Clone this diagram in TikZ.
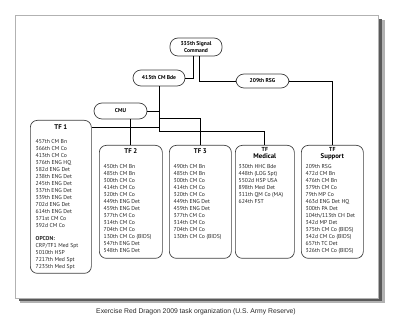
\documentclass[tikz,border=0pt]{standalone}
\usepackage{fontspec}
\setmainfont{PT Sans}
\newfontfamily\capfont{Liberation Sans}
\usetikzlibrary{positioning}

\tikzset{
  unit/.style={draw=black!75, line width=0.7pt, rounded corners=8pt, fill=white,
    font=\bfseries\fontsize{5.6}{6.2}\selectfont, align=center, inner sep=1pt},
  tfbox/.style={draw=black!75, line width=0.7pt, rounded corners=7pt, fill=white,
    anchor=north west, inner sep=0pt},
  tftitle/.style={font=\bfseries\fontsize{6.8}{7.6}\selectfont, align=center,
    inner sep=0pt, anchor=north},
  tflist/.style={font=\fontsize{5.7}{7}\selectfont, align=left, inner sep=0pt,
    anchor=north west, text=black!85},
  link/.style={line width=0.9pt, black}
}

\begin{document}
\begin{tikzpicture}[x=1pt, y=-1pt]
	\useasboundingbox (0,0) rectangle (400,320);
	\fill[black!30] (20,20) rectangle (385,303);
	\fill[black!65] (19,19) rectangle (382,301);
	\filldraw[fill=white, draw=black!30] (15,15) rectangle (378,298);
	% command chain
	\node[unit, minimum width=52, minimum height=18] (sig) at (196,47) {335th Signal\\Command};
	\node[unit, minimum width=52, minimum height=16] (bde) at (159,78) {415th CM Bde};
	\node[unit, minimum width=53, minimum height=14] (rsg) at (262.5,81) {209th RSG};
	\node[unit, minimum width=53, minimum height=16] (cmu) at (120.5,111) {CMU};
	% task forces
	\node[tfbox, minimum width=61, minimum height=153] (tf1) at (30,120) {};
	\foreach \name/\x/\w in {tf2/99/63, tf3/169/62, tfm/235/59, tfs/301/62} {
		\node[tfbox, minimum width=\w, minimum height=113] (\name) at (\x,145) {};
	}
	\node[tftitle] (tf1t) at ([yshift=-4.5pt]tf1.north) {TF 1};
	\node[tftitle] (tf2t) at ([yshift=-3.5pt]tf2.north) {TF 2};
	\node[tftitle] (tf3t) at ([yshift=-3.5pt]tf3.north) {TF 3};
	\node[tftitle] (tfmt) at ([yshift=-2pt]tfm.north) {\fontsize{5.8}{7}\selectfont TF\\\fontsize{6.8}{7}\selectfont Medical};
	\node[tftitle] (tfst) at ([yshift=-2pt]tfs.north) {\fontsize{5.8}{7}\selectfont TF\\\fontsize{6.8}{7}\selectfont Support};
	\node[tflist] (tf1l) at ([xshift=5.5pt, yshift=-19.5pt]tf1.north west) {457th CM Bn\\366th CM Co\\413th CM Co\\376th ENG HQ\\582d ENG Det\\238th ENG Det\\245th ENG Det\\337th ENG Det\\339th ENG Det\\702d ENG Det\\614th ENG Det\\371st CM Co\\392d CM Co\\[6pt]
		\textbf{OPCON:}\\CRP/TF1 Med Spt\\5010th HSP\\7217th Med Spt\\7235th Med Spt};
	\node[tflist] (tf2l) at ([xshift=4.5pt, yshift=-19.5pt]tf2.north west) {450th CM Bn\\485th CM Bn\\300th CM Co\\414th CM Co\\320th CM Co\\449th ENG Det\\459th ENG Det\\377th CM Co\\314th CM Co\\704th CM Co\\130th CM Co (BIDS)\\547th ENG Det\\548th ENG Det};
	\node[tflist] (tf3l) at ([xshift=4.5pt, yshift=-19.5pt]tf3.north west) {490th CM Bn\\485th CM Bn\\300th CM Co\\414th CM Co\\320th CM Co\\449th ENG Det\\459th ENG Det\\377th CM Co\\314th CM Co\\704th CM Co\\130th CM Co (BIDS)};
	\node[tflist] (tfml) at ([xshift=3.5pt, yshift=-19.5pt]tfm.north west) {330th HHC Bde\\448th (LOG Spt)\\5502d HSP USA\\898th Med Det\\311th QM Co (MA)\\624th FST};
	\node[tflist] (tfsl) at ([xshift=4.5pt, yshift=-19.5pt]tfs.north west) {209th RSG\\472d CM Bn\\476th CM Bn\\379th CM Co\\79th MP Co\\463d ENG Det HQ\\300th PA Det\\104th/113th CH Det\\342d MP Det\\375th CM Co (BIDS)\\342d CM Co (BIDS)\\657th TC Det\\326th CM Co (BIDS)};
	% connectors
	\coordinate (trunk) at (159,131);
	\coordinate (tf1link) at ([yshift=-7pt]tf1.north east);
	\draw[link] ([xshift=-3pt]sig.south) |- (bde.east);
	\draw[link] ([xshift=3pt]sig.south) |- (rsg.west);
	\draw[link] (rsg.east) -| (tfs.north);
	\draw[link] (bde.south) -- (trunk) -| (tfm.north);
	\draw[link] (cmu.east) -- (cmu.east -| trunk);
	\draw[link] (tf1link) -- (tf1link -| trunk);
	\draw[link] (trunk |- 0,118) -| (tf3.north);
	\draw[link] (cmu.south -| tf2.north) -- (tf2.north);
	\node[font=\capfont\fontsize{6.8}{8}\selectfont, text=black!85] (caption) at (196,312) {Exercise Red Dragon 2009 task organization (U.S. Army Reserve)};
\end{tikzpicture}
\end{document}
